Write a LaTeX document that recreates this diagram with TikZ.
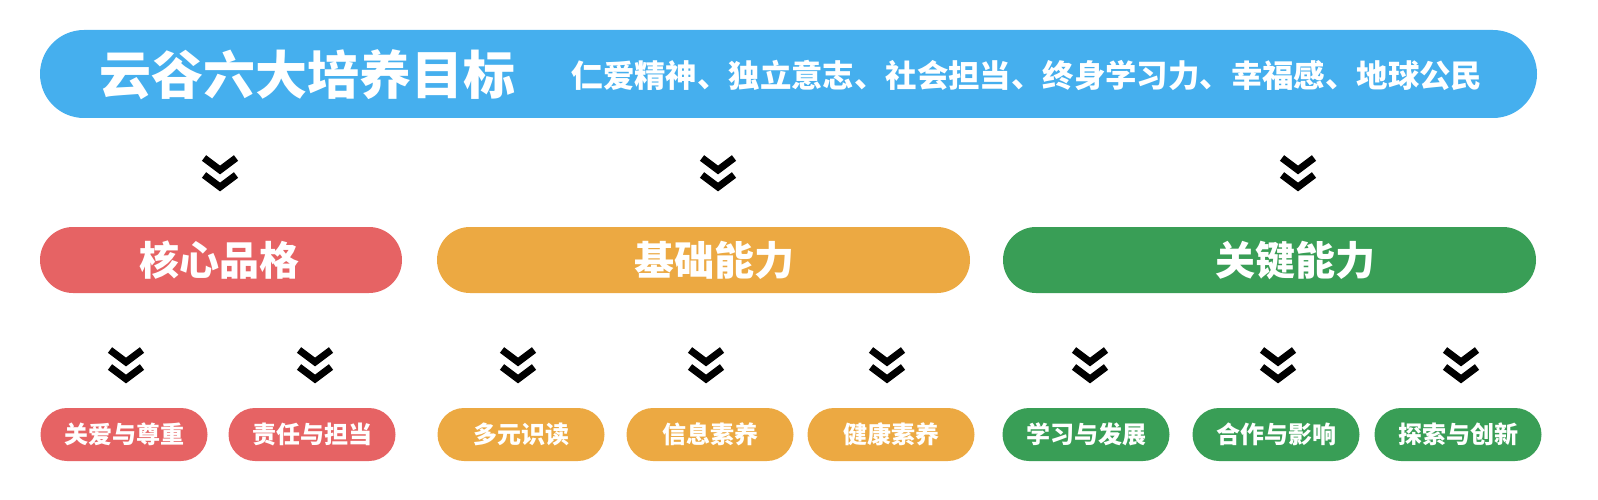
\documentclass[tikz,border=0pt]{standalone}
\usepackage{fontspec}
\setmainfont{Noto Sans CJK SC}
\usetikzlibrary{calc}
\definecolor{cblue}{HTML}{45AFEE}
\definecolor{cred}{HTML}{E66364}
\definecolor{corange}{HTML}{ECA942}
\definecolor{cgreen}{HTML}{399E56}
\tikzset{
  pill/.style={rounded corners=#1, draw=none, inner sep=0pt},
  lbl/.style={text=white, font=\bfseries, inner sep=0pt, anchor=center},
  chevron/.pic={
    \draw[line width=7pt, line join=miter, line cap=butt, black]
      (-16,-16) -- (0,-4) -- (16,-16)
      (-16,1) -- (0,13) -- (16,1);
  }
}
\begin{document}
\begin{tikzpicture}[x=1pt,y=-1pt]
\useasboundingbox (0,0) rectangle (1598,500);
% top banner
\fill[cblue, pill=44] (40,30) rectangle (1537,118);
\node[lbl, font=\bfseries\fontsize{52}{52}\selectfont] (title) at (307,75) {云谷六大培养目标};
\node[lbl, font=\bfseries\fontsize{31.4}{32}\selectfont] (goals) at (1027,75) {仁爱精神、独立意志、社会担当、终身学习力、幸福感、地球公民};
% first chevrons
\pic at (220,174) {chevron};
\pic at (718,174) {chevron};
\pic at (1298,174) {chevron};
% middle pills
\fill[cred, pill=33] (40,227) rectangle (402,293);
\fill[corange, pill=33] (437,227) rectangle (970,293);
\fill[cgreen, pill=33] (1003,227) rectangle (1536,293);
\node[lbl, font=\bfseries\fontsize{40}{40}\selectfont] (core) at (219,260) {核心品格};
\node[lbl, font=\bfseries\fontsize{40}{40}\selectfont] (base) at (714,260) {基础能力};
\node[lbl, font=\bfseries\fontsize{40}{40}\selectfont] (key) at (1295,260) {关键能力};
% second chevrons
\foreach \cx in {126,315,518,706,887,1090,1278,1461}
  \pic at (\cx,366) {chevron};
% bottom pills
\foreach \cx/\col/\t/\nm in {124/cred/关爱与尊重/b1, 312/cred/责任与担当/b2, 521/corange/多元识读/b3, 710/corange/信息素养/b4, 891/corange/健康素养/b5, 1086/cgreen/学习与发展/b6, 1276/cgreen/合作与影响/b7, 1458/cgreen/探索与创新/b8}{
  \fill[\col, pill=26.5] (\cx-83.5,408) rectangle (\cx+83.5,461);
  \node[lbl, font=\bfseries\fontsize{24}{24}\selectfont] (\nm) at (\cx,434.5) {\t};
}
\end{tikzpicture}
\end{document}
